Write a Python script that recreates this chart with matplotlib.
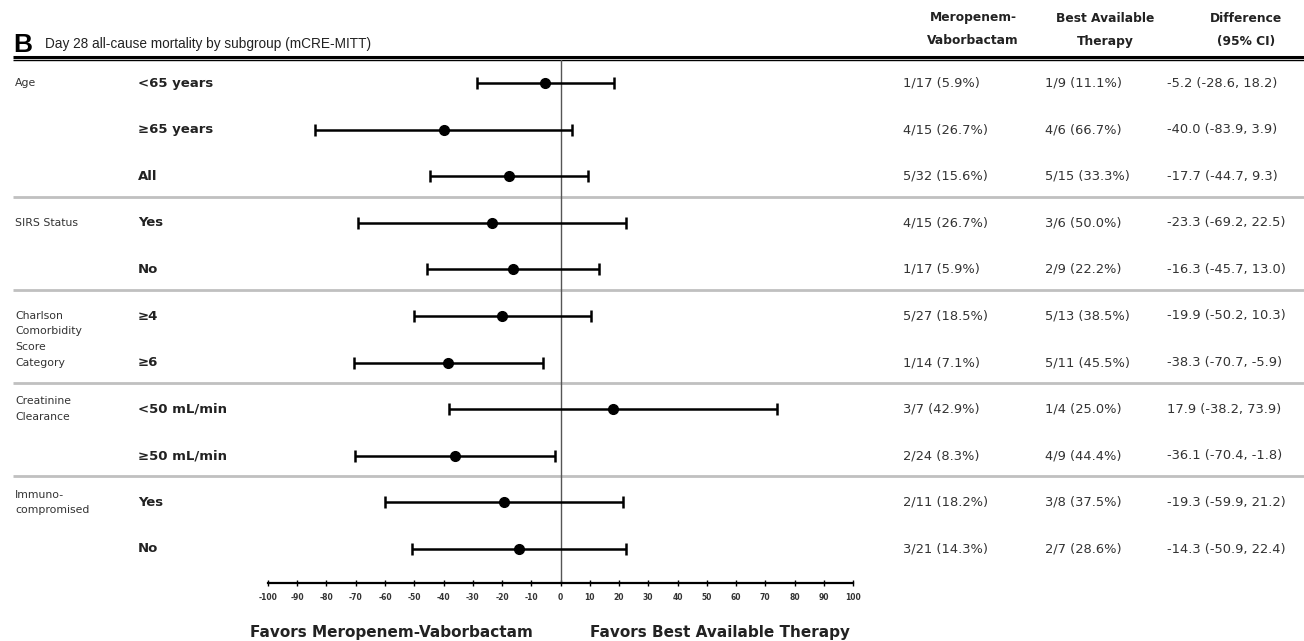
import numpy as np
import matplotlib
matplotlib.use('Agg')
import matplotlib.pyplot as plt

plt.rcParams['axes.unicode_minus'] = False

# =========================
# Datos
# =========================
categories = ['Age', 'SIRS Status', 'Charlson\nComorbidity\nScore\nCategory',
              'Creatinine\nClearance', 'Immuno-\ncompromised']
group_sizes = [3, 2, 2, 2, 2]
subgroups = ['<65 years', '≥65 years', 'All', 'Yes', 'No', '≥4', '≥6',
             '<50 mL/min', '≥50 mL/min', 'Yes', 'No']

mv_text = ['1/17 (5.9%)', '4/15 (26.7%)', '5/32 (15.6%)', '4/15 (26.7%)', '1/17 (5.9%)',
           '5/27 (18.5%)', '1/14 (7.1%)', '3/7 (42.9%)', '2/24 (8.3%)', '2/11 (18.2%)',
           '3/21 (14.3%)']
bat_text = ['1/9 (11.1%)', '4/6 (66.7%)', '5/15 (33.3%)', '3/6 (50.0%)', '2/9 (22.2%)',
            '5/13 (38.5%)', '5/11 (45.5%)', '1/4 (25.0%)', '4/9 (44.4%)', '3/8 (37.5%)',
            '2/7 (28.6%)']

diff = np.array([-5.2, -40.0, -17.7, -23.3, -16.3, -19.9, -38.3, 17.9, -36.1, -19.3, -14.3])
ci_lo = np.array([-28.6, -83.9, -44.7, -69.2, -45.7, -50.2, -70.7, -38.2, -70.4, -59.9, -50.9])
ci_hi = np.array([18.2, 3.9, 9.3, 22.5, 13.0, 10.3, -5.9, 73.9, -1.8, 21.2, 22.4])

headers = ['Meropenem-\nVaborbactam', 'Best Available\nTherapy', 'Difference\n(95% CI)']
xticks = np.arange(-100, 101, 10)

# =========================
# Layout (pixeles)
# =========================
W, H = 1304, 641
row0, dy = 83, 46.6
ax_top, ax_bot = 60, 583
x_m100, x_p100 = 268, 853

fig = plt.figure(figsize=(W / 100, H / 100), dpi=100)
bg = fig.add_axes([0, 0, 1, 1])
bg.set_xlim(0, W)
bg.set_ylim(H, 0)
bg.axis('off')

body = 'DejaVu Sans'

def ypx(i):
    return row0 + dy * i

# titulo
bg.text(13, 52, 'B', fontsize=19, family='Liberation Sans', fontweight='bold', va='baseline')
bg.text(45, 48, 'Day 28 all-cause mortality by subgroup (mCRE-MITT)', fontsize=9.8,
        family='Liberation Sans', va='baseline', color='#222')

# doble linea
bg.plot([13, W], [56.5, 56.5], color='black', lw=2.2, solid_capstyle='butt')
bg.plot([13, W], [60.3, 60.3], color='black', lw=1.0, solid_capstyle='butt')

# encabezados de columnas
for xc, h in zip([973, 1105, 1246], headers):
    for k, line in enumerate(h.split('\n')):
        bg.text(xc, 18 + 23 * k, line, ha='center', va='center', fontsize=8.8,
                family=body, fontweight='bold', color='#222')

# separadores y etiquetas de categoria
start = 0
for g, (cat, n) in enumerate(zip(categories, group_sizes)):
    nlines = cat.count('\n') + 1
    yc = ypx(start) if nlines <= 2 else (ypx(start) + ypx(start + n - 1)) / 2
    bg.text(15, yc, cat, fontsize=7.8, family=body, va='center', ha='left',
            linespacing=1.7, color='#333')
    if g > 0:
        ysep = (ypx(start - 1) + ypx(start)) / 2 - 3
        bg.plot([13, W], [ysep, ysep], color='#c0c0c0', lw=2.0, solid_capstyle='butt')
    start += n

# subgrupos y columnas de texto
for i in range(len(subgroups)):
    y = ypx(i)
    bg.text(138, y, subgroups[i], fontsize=9.5, family=body, fontweight='bold',
            va='center', color='#222')
    bg.text(903, y, mv_text[i], fontsize=9.4, family=body, va='center', color='#333')
    bg.text(1045, y, bat_text[i], fontsize=9.4, family=body, va='center', color='#333')
    bg.text(1167, y, f'{diff[i]:.1f} ({ci_lo[i]:.1f}, {ci_hi[i]:.1f})', fontsize=9.4,
            family=body, va='center', color='#333')

# =========================
# Forest plot
# =========================
ax = fig.add_axes([x_m100 / W, (H - ax_bot) / H, (x_p100 - x_m100) / W, (ax_bot - ax_top) / H])
ax.patch.set_alpha(0)
rows = np.arange(len(diff))
ax.set_xlim(-100, 100)
ax.set_ylim((ax_bot - row0) / dy, (ax_top - row0) / dy)

ax.axvline(0, color='#555555', lw=1.0)
ax.errorbar(diff, rows, xerr=[diff - ci_lo, ci_hi - diff], fmt='o', color='black',
            ms=7, elinewidth=1.8, capsize=4, capthick=1.8)

for s in ['left', 'right', 'top']:
    ax.spines[s].set_visible(False)
ax.spines['bottom'].set_linewidth(1.6)
ax.set_yticks([])
ax.set_xticks(xticks)
ax.tick_params(axis='x', direction='inout', length=5, width=1, pad=5, labelsize=5.5)
for t in ax.get_xticklabels():
    t.set_fontweight('bold')
    t.set_color('#333')

bg.text(391, 632, 'Favors Meropenem-Vaborbactam', ha='center', va='center', fontsize=11,
        family=body, fontweight='bold', color='#222')
bg.text(720, 632, 'Favors Best Available Therapy', ha='center', va='center', fontsize=11,
        family=body, fontweight='bold', color='#222')

fig.savefig('out.png', dpi=100)
